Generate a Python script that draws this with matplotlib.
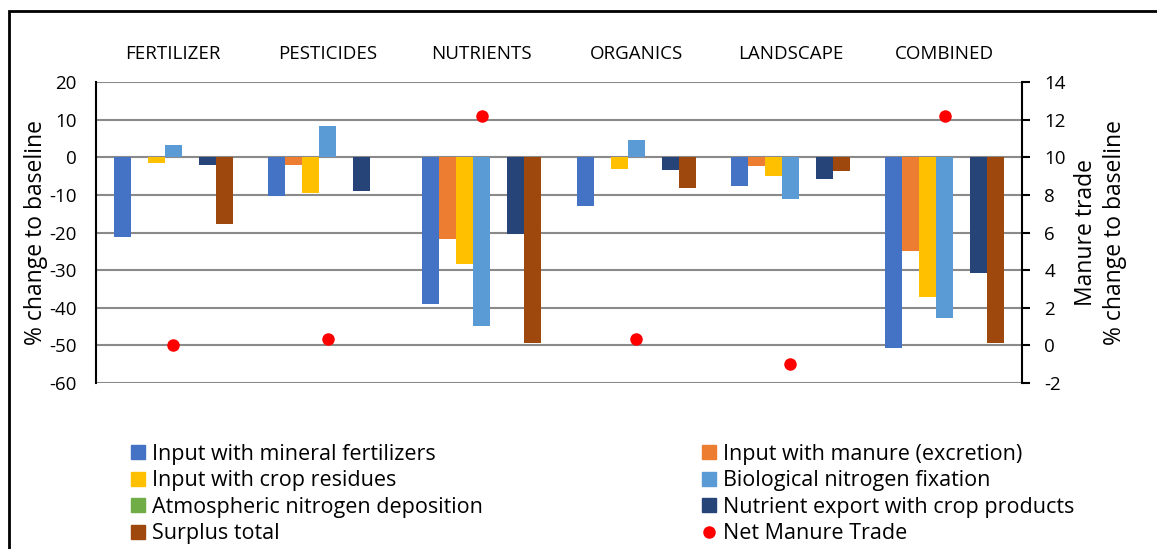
import numpy as np
import matplotlib.pyplot as plt
from matplotlib.patches import Rectangle
from matplotlib.lines import Line2D

plt.rcParams['font.family'] = ['Open Sans', 'DejaVu Sans']
plt.rcParams['axes.unicode_minus'] = False

# scenarios
categories = ["FERTILIZER", "PESTICIDES", "NUTRIENTS", "ORGANICS", "LANDSCAPE", "COMBINED"]

# % change to baseline per nitrogen budget item
mineral_fert = [-21.1, -10.2, -38.9, -12.9, -7.6, -50.6]
manure_input = [0.0, -2.0, -21.7, 0.0, -2.4, -24.9]
crop_residues = [-1.4, -9.6, -28.4, -3.1, -5.0, -37.1]
bio_fixation = [3.3, 8.3, -44.9, 4.5, -11.2, -42.8]
atm_deposition = [0.0, 0.0, 0.0, 0.0, 0.0, 0.0]
crop_export = [-2.0, -9.1, -20.3, -3.3, -5.9, -30.8]
surplus_total = [-17.7, 0.0, -49.5, -8.3, -3.6, -49.5]

# manure trade (right axis)
net_manure_trade = [0.0, 0.35, 12.2, 0.35, -1.0, 12.2]

series = [
    ("Input with mineral fertilizers", mineral_fert, "#4472C4"),
    ("Input with manure (excretion)", manure_input, "#ED7D31"),
    ("Input with crop residues", crop_residues, "#FFC000"),
    ("Biological nitrogen fixation", bio_fixation, "#5B9BD5"),
    ("Atmospheric nitrogen deposition", atm_deposition, "#70AD47"),
    ("Nutrient export with crop products", crop_export, "#264478"),
    ("Surplus total", surplus_total, "#9E480E"),
]

W, H = 1157, 549
fig = plt.figure(figsize=(W / 100, H / 100), dpi=100)
ax = fig.add_axes([96 / W, 1 - 383 / H, (1022 - 96) / W, (383 - 82) / H])
ax2 = ax.twinx()

x = np.arange(len(categories))
bw = 0.11
handles = {}
for i, (name, vals, col) in enumerate(series):
    ax.bar(x + (i - 3) * bw, vals, bw, color=col, zorder=3)
    handles[name] = Line2D([], [], marker="s", ls="", color=col, ms=9.5)

ax2.plot(x, net_manure_trade, "o", color="#FF0000", ms=8, zorder=4)
handles["Net Manure Trade"] = Line2D([], [], marker="o", ls="", color="#FF0000", ms=8)

# left axis
ax.set_ylim(-60, 20)
ax.set_yticks(np.arange(-60, 21, 10))
ax.set_xlim(-0.5, 5.5)
ax.grid(axis="y", color="#8a8a8a", lw=1.5, zorder=0)
ax.axhline(0, color="#d9d9d9", lw=1.5, zorder=1)
ax.tick_params(axis="y", length=0, pad=14, labelsize=13.5)
ax.set_ylabel("% change to baseline", fontsize=16.5, labelpad=1)
for s in ["top", "bottom", "right"]:
    ax.spines[s].set_visible(False)
ax.spines["left"].set_color("black")
ax.spines["left"].set_linewidth(1.5)

# category labels on top
ax.xaxis.tick_top()
ax.set_xticks(x)
ax.set_xticklabels(categories, fontsize=13.5)
ax.tick_params(axis="x", length=0, pad=14)

# right axis
ax2.set_ylim(-2, 14)
ax2.set_yticks(np.arange(-2, 15, 2))
ax2.tick_params(axis="y", length=6, width=1.5, direction="out", pad=10, labelsize=13.5)
ax2.set_ylabel("Manure trade\n% change to baseline", fontsize=16.5, labelpad=6,
               linespacing=1.25)
for s in ["top", "bottom", "left"]:
    ax2.spines[s].set_visible(False)
ax2.spines["right"].set_linewidth(1.5)

# legend in two columns (matplotlib fills column-wise)
order = [
    "Input with mineral fertilizers", "Input with crop residues",
    "Atmospheric nitrogen deposition", "Surplus total",
    "Input with manure (excretion)", "Biological nitrogen fixation",
    "Nutrient export with crop products", "Net Manure Trade",
]
fig.legend([handles[k] for k in order], order, ncol=2, frameon=False,
           loc="upper left", bbox_to_anchor=(122 / W, 1 - 435 / H),
           fontsize=15.5, handlelength=0.7, handletextpad=0.3,
           columnspacing=10.15, labelspacing=0.26, borderaxespad=0)

# border around the whole chart
fig.add_artist(Rectangle((9 / W, -0.1), 1.2, 1.1 - 11 / H, transform=fig.transFigure,
                         fill=False, lw=2, color="black"))

fig.savefig("out.png", dpi=100)
